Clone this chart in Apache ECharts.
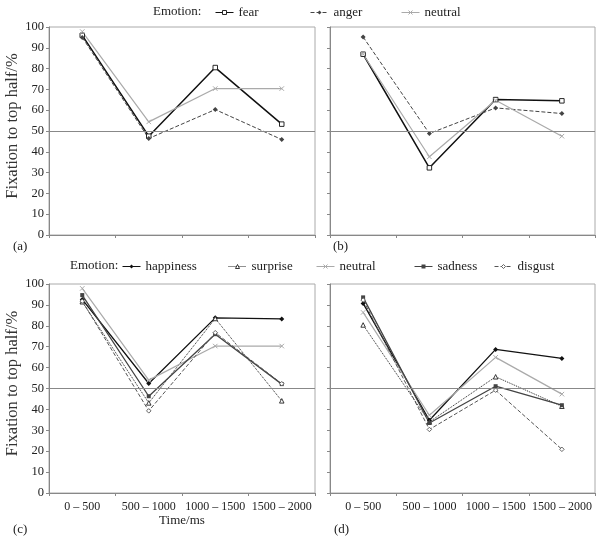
<!DOCTYPE html>
<html>
<head>
<meta charset="utf-8">
<script src="https://cdn.jsdelivr.net/npm/echarts@6/dist/echarts.min.js"></script>
<style>html,body{margin:0;padding:0;background:#fff;}#c{width:607px;height:541px;}</style>
</head>
<body>
<div id="c"></div>
<script>
// ---- data ----
const categories = ['0 – 500', '500 – 1000', '1000 – 1500', '1500 – 2000'];
const yTicks = [0, 10, 20, 30, 40, 50, 60, 70, 80, 90, 100];
// panel (a)
const aFear    = [96, 47.5, 80.5, 53.3];
const aAnger   = [95, 46.4, 60.3, 45.9];
const aNeutral = [97.8, 54.4, 70.4, 70.4];
// panel (b)
const bFear    = [86.9, 32.3, 65.1, 64.5];
const bAnger   = [95.2, 48.8, 61.1, 58.4];
const bNeutral = [86.9, 37.6, 64.8, 47.5];
// panel (c)
const cHappiness = [92.6, 52.4, 83.8, 83.3];
const cSurprise  = [91.5, 43.1, 83.5, 44.1];
const cNeutral   = [97.9, 54.0, 70.3, 70.3];
const cSadness   = [94.7, 46.3, 76.0, 52.1];
const cDisgust   = [91.8, 39.3, 76.7, 52.3];
// panel (d)
const dHappiness = [90.7, 34.8, 68.7, 64.4];
const dSurprise  = [80.4, 34.0, 55.6, 41.5];
const dNeutral   = [86.4, 37.2, 64.9, 47.3];
const dSadness   = [93.6, 33.5, 51.1, 42.0];
const dDisgust   = [92.3, 30.4, 49.2, 20.9];
const refLevel = 50;

const FONT = 'Liberation Serif';
const chart = echarts.init(document.getElementById('c'));

const xSym = 'path://M0,0L10,10M10,0L0,10';
const styles = {
  fear:      {color:'#111', width:1.5, type:'solid',  symbol:'rect',     open:true,  size:4.5},
  anger:     {color:'#444', width:1,   type:'dashed', symbol:'diamond',  open:false, size:5},
  neutral:   {color:'#aaa', width:1.2, type:'solid',  symbol:xSym,       open:false, size:4.5},
  happiness: {color:'#111', width:1.3, type:'solid',  symbol:'diamond',  open:false, size:5},
  surprise:  {color:'#222', width:1,   type:'dotted', symbol:'triangle', open:true,  size:4.5},
  sadness:   {color:'#444', width:1.3, type:'solid',  symbol:'rect',     open:false, size:4},
  disgust:   {color:'#555', width:1,   type:'dashed', symbol:'diamond',  open:true,  size:4.5}
};

function itemStyleOf(s) {
  if (s.symbol === xSym) return {color: s.color, borderColor: s.color, borderWidth: 1};
  if (s.open) return {color: '#fff', borderColor: s.color, borderWidth: 0.9};
  return {color: s.color, borderWidth: 0};
}

function mk(name, data, idx, withRef) {
  const s = styles[name];
  const ser = {
    name: name, type: 'line', data: data,
    xAxisIndex: idx, yAxisIndex: idx,
    symbol: s.symbol, symbolSize: s.size,
    lineStyle: {color: s.color, width: s.width, type: s.type},
    itemStyle: itemStyleOf(s),
    emphasis: {disabled: true},
    animation: false, z: 3
  };
  if (withRef) {
    ser.markLine = {
      silent: true, symbol: ['none','none'], label: {show:false},
      lineStyle: {color:'#888', width:1, type:'solid'},
      data: [{yAxis: refLevel}], animation: false
    };
  }
  return ser;
}

const grids = [
  {left:49,  top:27,  width:266, height:208},
  {left:330, top:27,  width:265, height:208},
  {left:49,  top:284, width:266, height:209},
  {left:330, top:284, width:265, height:209}
].map(g => Object.assign(g, {show:true, borderColor:'#aaa', borderWidth:1, backgroundColor:'transparent'}));

const xAxes = [0,1,2,3].map(i => ({
  type:'category', gridIndex:i, data:categories, boundaryGap:true,
  axisLine:{lineStyle:{color:'#888', width:1}},
  axisTick:{show:true, length:3, lineStyle:{color:'#888'}},
  axisLabel:{show:i>=2, fontFamily:FONT, fontSize:12, color:'#222', margin:8, interval:0},
  name: i===2 ? 'Time/ms' : '', nameLocation:'middle', nameGap:20,
  nameTextStyle:{fontFamily:FONT, fontSize:13, color:'#222'}
}));

const yAxes = [0,1,2,3].map(i => ({
  type:'value', gridIndex:i, min:0, max:100, interval:10,
  splitLine:{show:false},
  axisLine:{show:true, lineStyle:{color:'#888', width:1}},
  axisTick:{show:true, length:3, lineStyle:{color:'#888'}},
  axisLabel:{show:i%2===0, fontFamily:FONT, fontSize:12.5, color:'#222', margin:5,
    formatter: v => yTicks.indexOf(v) >= 0 ? String(v) : ''},
  name: i%2===0 ? 'Fixation to top half/%' : '', nameLocation:'middle', nameGap:27,
  nameTextStyle:{fontFamily:FONT, fontSize:16.5, color:'#333', padding:[0,0,0,10]}
}));

const series = [
  mk('fear', aFear, 0, true), mk('anger', aAnger, 0), mk('neutral', aNeutral, 0),
  mk('fear', bFear, 1, true), mk('anger', bAnger, 1), mk('neutral', bNeutral, 1),
  mk('happiness', cHappiness, 2, true), mk('surprise', cSurprise, 2), mk('neutral', cNeutral, 2),
  mk('sadness', cSadness, 2), mk('disgust', cDisgust, 2),
  mk('happiness', dHappiness, 3, true), mk('surprise', dSurprise, 3), mk('neutral', dNeutral, 3),
  mk('sadness', dSadness, 3), mk('disgust', dDisgust, 3)
];

function lg(name, left, top) {
  const s = styles[name];
  return {
    data:[name], left:left, top:top, itemWidth:18, itemHeight:5, itemGap:0,
    selectedMode:false, textStyle:{fontFamily:FONT, fontSize:13, color:'#222'},
    lineStyle:{width:1, type:s.type, color:s.color},
    itemStyle: itemStyleOf(s),
    padding:0
  };
}
const legends = [
  lg('fear', 215, 6), lg('anger', 310, 6), lg('neutral', 401, 6),
  lg('happiness', 122, 260), lg('surprise', 228, 260), lg('neutral', 316, 260),
  lg('sadness', 414, 260), lg('disgust', 494, 260)
];

function txt(t, x, y) {
  return {type:'text', left:x, top:y, style:{text:t, font:'13px "Liberation Serif"', fill:'#222'}};
}

chart.setOption({
  animation:false,
  backgroundColor:'#fff',
  grid:grids, xAxis:xAxes, yAxis:yAxes, series:series, legend:legends,
  graphic:[
    txt('Emotion:', 153, 5), txt('Emotion:', 70, 259),
    txt('(a)', 13, 240), txt('(b)', 333, 240),
    txt('(c)', 13, 523), txt('(d)', 334, 523)
  ]
});
</script>
</body>
</html>
